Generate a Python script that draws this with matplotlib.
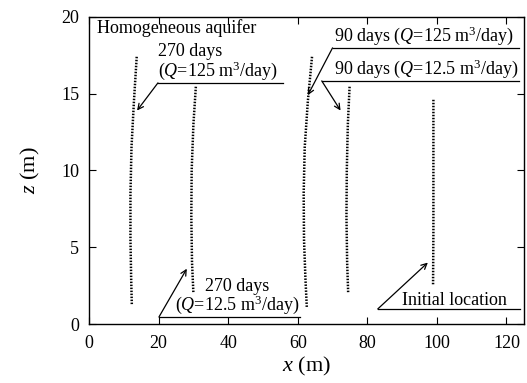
import numpy as np
import matplotlib
matplotlib.use("AGG")
import matplotlib.pyplot as plt

plt.rcParams['font.family'] = ['Liberation Serif', 'DejaVu Serif']
plt.rcParams['mathtext.fontset'] = 'custom'
plt.rcParams['mathtext.rm'] = 'Liberation Serif'
plt.rcParams['mathtext.it'] = 'Liberation Serif:italic'

# particle tracks (x, z) in metres
init_x = [99.0, 99.0, 99.0, 98.9]
init_z = [14.6, 10.0, 6.0, 2.5]

d90_low_x = [74.9, 74.4, 74.1, 74.0, 74.2, 74.5]
d90_low_z = [15.45, 13.0, 10.0, 7.0, 4.0, 2.0]

d90_high_x = [64.1, 62.9, 62.0, 61.7, 61.8, 62.2, 62.6]
d90_high_z = [17.4, 14.5, 11.5, 8.5, 5.5, 3.0, 1.1]

d270_low_x = [30.7, 30.0, 29.5, 29.4, 29.6, 30.0]
d270_low_z = [15.45, 13.0, 10.0, 7.0, 4.0, 2.0]

d270_high_x = [13.7, 12.9, 12.2, 11.9, 11.9, 12.1, 12.3]
d270_high_z = [17.4, 14.5, 11.5, 8.5, 5.5, 3.0, 1.2]

tracks = [(init_x, init_z), (d90_low_x, d90_low_z), (d90_high_x, d90_high_z),
          (d270_low_x, d270_low_z), (d270_high_x, d270_high_z)]

fig = plt.figure(figsize=(5.27, 3.83), dpi=100)
ax = fig.add_axes([0.169, 0.154, 0.825, 0.802])

for xs, zs in tracks:
    ax.plot(xs, zs, color='black', lw=1.8, linestyle=(0, (0.6, 0.6)))

fs = 13
lab_kw = dict(fontsize=fs, color='black')
arr = dict(arrowstyle='->', lw=0.9, color='black', shrinkA=0, shrinkB=0)

def label(text, ux0, ux1, uy, tip, tx, ty, ha='left'):
    ax.plot([ux0, ux1], [uy, uy], color='black', lw=0.9)
    ax.annotate('', xy=tip, xytext=(ux0, uy), arrowprops=arr)
    ax.text(tx, ty, text, ha=ha, va='bottom', linespacing=0.95, **lab_kw)

ax.text(2.3, 19.3, 'Homogeneous aquifer', ha='left', va='center', **lab_kw)
label('270 days\n($Q$=125 m$^3$/day)', 19.8, 55.7, 15.7, (13.8, 13.9), 19.8, 15.75)
label('90 days ($Q$=125 m$^3$/day)', 70.0, 123.7, 17.98, (62.9, 14.9), 70.3, 18.03)
label('90 days ($Q$=12.5 m$^3$/day)', 66.9, 123.7, 15.83, (72.3, 13.9), 70.3, 15.88)
label('270 days\n($Q$=12.5 m$^3$/day)', 20.1, 60.6, 0.46, (28.1, 3.6), 42.7, 0.5, ha='center')
label('Initial location', 83.0, 124.0, 0.98, (97.4, 4.0), 90.0, 1.0)

ax.set_xlim(0, 125)
ax.set_ylim(0, 20)
ax.set_xticks(np.arange(0, 121, 20))
ax.set_yticks(np.arange(0, 21, 5))
ax.tick_params(direction='in', top=True, right=True, length=5, width=0.8, labelsize=13)
ax.tick_params(axis='x', pad=8)
ax.tick_params(axis='y', pad=7)
for s in ax.spines.values():
    s.set_linewidth(1.0)
ax.set_xlabel('$x$ (m)', fontsize=16, labelpad=2)
ax.set_ylabel('$z$ (m)', fontsize=16, labelpad=14)

plt.savefig('out.png', dpi=100)
